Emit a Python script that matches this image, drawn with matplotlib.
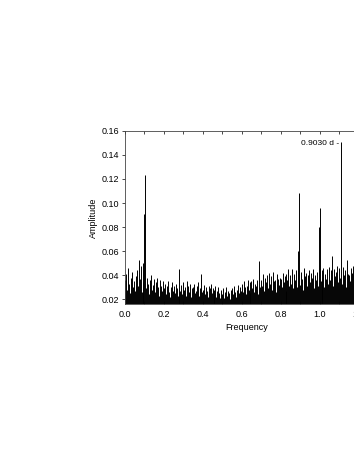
import matplotlib
matplotlib.use("Agg")
import matplotlib.pyplot as plt
import numpy as np

plt.rcParams['font.family'] = ['Liberation Sans', 'DejaVu Sans']

# amplitude spectrum, one value every 0.005 in frequency (0.0 .. 1.25)
f_step = 0.005
amp = [
    0.036, 0.041, 0.028, 0.046, 0.033, 0.025, 0.038, 0.043, 0.030, 0.035,
    0.027, 0.039, 0.044, 0.031, 0.053, 0.037, 0.048, 0.026, 0.050, 0.034,
    0.091, 0.123, 0.029, 0.038, 0.033, 0.024, 0.036, 0.040, 0.028, 0.032,
    0.037, 0.026, 0.034, 0.038, 0.030, 0.023, 0.036, 0.031, 0.027, 0.035,
    0.029, 0.033, 0.024, 0.031, 0.035, 0.026, 0.022, 0.030, 0.034, 0.027,
    0.031, 0.025, 0.033, 0.029, 0.023, 0.030, 0.045, 0.027, 0.032, 0.024,
    0.034, 0.028, 0.030, 0.023, 0.035, 0.031, 0.026, 0.033, 0.022, 0.029,
    0.030, 0.033, 0.025, 0.027, 0.031, 0.034, 0.023, 0.029, 0.041, 0.026,
    0.028, 0.032, 0.024, 0.030, 0.027, 0.022, 0.031, 0.029, 0.033, 0.025,
    0.029, 0.024, 0.028, 0.031, 0.022, 0.027, 0.030, 0.025, 0.021, 0.028,
    0.024, 0.029, 0.021, 0.026, 0.030, 0.023, 0.027, 0.025, 0.020, 0.028,
    0.029, 0.024, 0.031, 0.026, 0.022, 0.028, 0.032, 0.025, 0.030, 0.027,
    0.033, 0.026, 0.035, 0.030, 0.024, 0.031, 0.036, 0.028, 0.034, 0.025,
    0.035, 0.029, 0.037, 0.026, 0.033, 0.031, 0.036, 0.024, 0.052, 0.030,
    0.036, 0.031, 0.041, 0.027, 0.038, 0.034, 0.040, 0.029, 0.042, 0.033,
    0.039, 0.028, 0.043, 0.035, 0.036, 0.026, 0.041, 0.037, 0.032, 0.038,
    0.037, 0.030, 0.042, 0.034, 0.039, 0.027, 0.041, 0.036, 0.045, 0.031,
    0.040, 0.033, 0.045, 0.029, 0.041, 0.036, 0.044, 0.030, 0.060, 0.108,
    0.032, 0.043, 0.037, 0.028, 0.046, 0.039, 0.042, 0.031, 0.040, 0.044,
    0.034, 0.042, 0.038, 0.045, 0.029, 0.040, 0.036, 0.043, 0.031, 0.080,
    0.096, 0.035, 0.044, 0.038, 0.046, 0.030, 0.041, 0.037, 0.045, 0.033,
    0.047, 0.036, 0.044, 0.056, 0.031, 0.045, 0.039, 0.043, 0.048, 0.034,
    0.046, 0.038, 0.151, 0.033, 0.047, 0.040, 0.044, 0.030, 0.053, 0.041,
    0.040, 0.035, 0.046, 0.042, 0.048, 0.031, 0.044, 0.039, 0.047, 0.036,
    0.042, 0.037, 0.046, 0.032, 0.044, 0.040, 0.048, 0.034, 0.045, 0.038,
    0.042,
]
freq = np.arange(len(amp)) * f_step

label_text = "0.9030 d -"
label_freq = 1.110
label_amp = 0.151

fig = plt.figure(figsize=(3.54, 4.58), dpi=100)
ax = fig.add_axes([0.3531, 0.3362, 0.687, 0.378])

ax.vlines(freq, 0, amp, color='black', linewidth=0.7)

ax.set_xlim(0, 1.25)
ax.set_ylim(0.016, 0.16)
ax.set_xticks(np.arange(0, 1.3, 0.2))
ax.set_xticks(np.arange(0, 1.3, 0.1), minor=True)
ax.set_yticks(np.arange(0.02, 0.161, 0.02))
ax.xaxis.set_major_formatter(matplotlib.ticker.FormatStrFormatter('%.1f'))
ax.yaxis.set_major_formatter(matplotlib.ticker.FormatStrFormatter('%.2f'))
ax.tick_params(axis='both', which='both', labelsize=6.5, length=2, width=0.5, pad=2)
ax.tick_params(axis='x', which='both', direction='in', top=True)
ax.tick_params(axis='x', which='major', pad=4)
ax.tick_params(axis='y', direction='out')
for s in ax.spines.values():
    s.set_linewidth(0.6)
    s.set_color('#444444')

ax.set_xlabel("Frequency", fontsize=6.5, labelpad=3)
ax.set_ylabel("Amplitude", fontsize=6.5, labelpad=3)

ax.text(label_freq - 0.008, label_amp - 0.0015, label_text, fontsize=6,
        ha='right', va='center')

plt.savefig("out.png", dpi=100)
